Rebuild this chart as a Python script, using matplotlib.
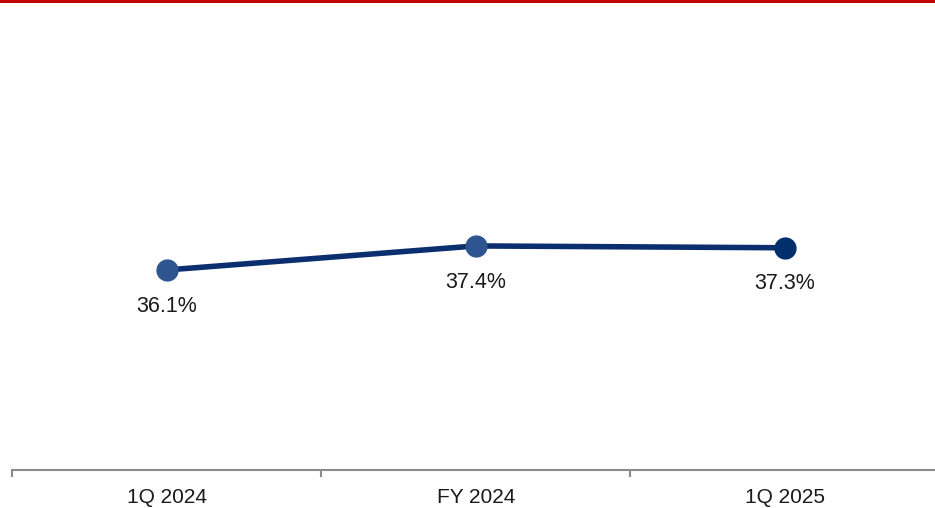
import matplotlib.pyplot as plt
from matplotlib.patches import Rectangle

plt.rcParams['font.family'] = ['Liberation Sans', 'DejaVu Sans']

periods = ['1Q 2024', 'FY 2024', '1Q 2025']
values = [36.1, 37.4, 37.3]
marker_colors = ['#2e5590', '#2e5590', '#002f6c']

fig = plt.figure(figsize=(9.35, 5.08), dpi=100)
ax = fig.add_axes([12 / 935, 38 / 508, 923 / 935, 460 / 508])

x = list(range(len(periods)))
ax.plot(x, values, color='#0b2f6e', linewidth=4, solid_capstyle='round', zorder=2)
for xi, v, c in zip(x, values, marker_colors):
    ax.plot(xi, v, 'o', color=c, markersize=15, zorder=3)
    ax.annotate(f'{v:.1f}%', (xi, v), xytext=(0, -26), textcoords='offset points',
                ha='center', va='center', fontsize=15.5, color='#1a1a1a')

ax.set_xlim(-0.5, 2.485)
ax.set_ylim(25.29, 50.15)
ax.set_xticks(x)
ax.set_xticklabels(periods, fontsize=15, color='#1a1a1a')
ax.set_xticks([-0.5, 0.5, 1.5], minor=True)
ax.tick_params(axis='x', which='major', length=0, pad=13)
ax.tick_params(axis='x', which='minor', length=5, width=1.5, color='#8c8c8c', direction='out')
ax.set_yticks([])
for side in ['top', 'right', 'left']:
    ax.spines[side].set_visible(False)
ax.spines['bottom'].set_color('#8c8c8c')
ax.spines['bottom'].set_linewidth(1.5)
ax.patch.set_alpha(0)

# red rule along the top edge
fig.add_artist(Rectangle((0, 1 - 3 / 508), 1, 3 / 508, transform=fig.transFigure,
                         facecolor='#c00000', edgecolor='none'))

fig.savefig('out.png', dpi=100)
